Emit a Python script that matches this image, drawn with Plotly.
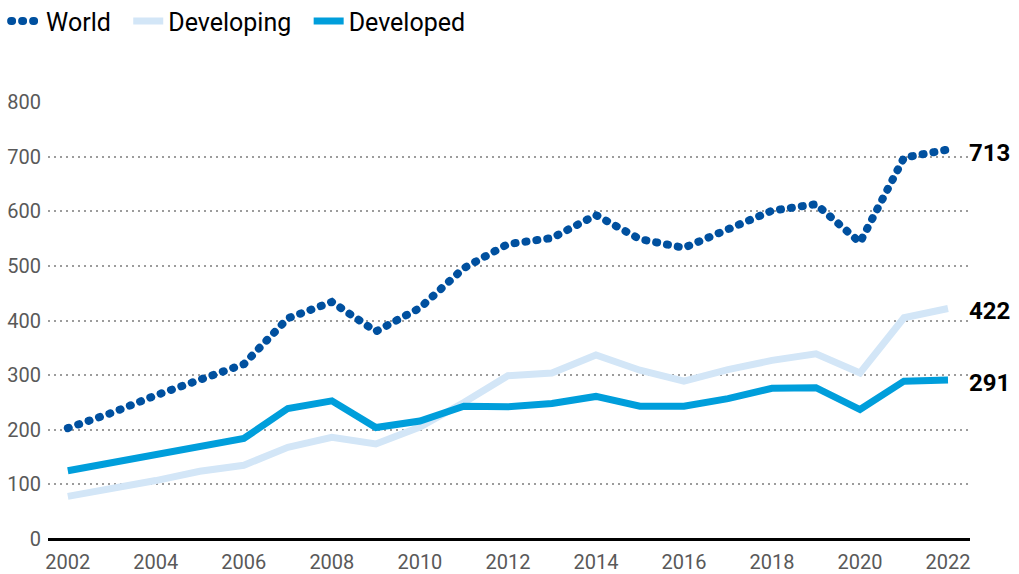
import plotly.graph_objects as go

years = list(range(2002, 2023))
world = [203, 231, 263, 292, 320, 404, 434, 380, 423, 496, 540, 551, 593, 549, 533, 567, 601, 613, 543, 698, 713]
developing = [78, 92, 107, 124, 135, 168, 186, 174, 205, 250, 299, 304, 337, 309, 289, 310, 327, 339, 304, 405, 422]
developed = [125, 139, 156, 169, 184, 239, 253, 204, 216, 243, 242, 248, 261, 243, 243, 257, 276, 277, 237, 289, 291]

series_names = ["World", "Developing", "Developed"]
end_labels = ["713", "422", "291"]

FONT = "Roboto, Arial, sans-serif"
C_WORLD = "#00509f"
C_DEVING = "#d3e6f7"
C_DEVED = "#009edb"
NB = "\u00a0"

fig = go.Figure()
fig.add_trace(go.Scatter(x=years, y=world, name=series_names[0] + NB * 2, mode="lines",
                         line=dict(color=C_WORLD, width=8, dash="1px,10px")))
fig.add_trace(go.Scatter(x=years, y=developing, name=series_names[1] + NB * 2, mode="lines",
                         line=dict(color=C_DEVING, width=7)))
fig.add_trace(go.Scatter(x=years, y=developed, name=series_names[2], mode="lines",
                         line=dict(color=C_DEVED, width=7)))

for series, lab in zip([world, developing, developed], end_labels):
    fig.add_annotation(x=years[-1], y=series[-1], text=f"<b>{lab}</b>", showarrow=False,
                       xanchor="left", xshift=19, yshift=-3,
                       font=dict(family=FONT, size=24, color="#000"))

fig.update_layout(
    width=1019, height=574,
    margin=dict(l=48, r=49, t=102, b=35, autoexpand=False),
    paper_bgcolor="white", plot_bgcolor="white",
    font=dict(family=FONT, size=20, color="#595959"),
    showlegend=True,
    legend=dict(orientation="h", x=0.006, y=0.963, xanchor="left", yanchor="middle",
                xref="container", yref="container",
                font=dict(family=FONT, size=25, color="#000"),
                itemwidth=30, bgcolor="rgba(0,0,0,0)"),
    xaxis=dict(range=[2001.55, 2022.5], tickmode="array", tickvals=list(range(2002, 2023, 2)),
               showgrid=False, zeroline=False, showline=False, ticks="", ticklen=0,
               ticklabelstandoff=9,
               tickfont=dict(family=FONT, size=20, color="#595959")),
    yaxis=dict(range=[0, 800], tickvals=[0, 100, 200, 300, 400, 500, 600, 700, 800],
               showgrid=True, gridcolor="#9c9c9c", gridwidth=2, griddash="2px,4px",
               zeroline=True, zerolinecolor="#000", zerolinewidth=3,
               ticks="", ticklabelstandoff=6,
               tickfont=dict(family=FONT, size=20, color="#595959")),
)

post = """
document.body.style.margin='0';
var s=document.createElement('style');
s.innerHTML='body{margin:0;} .scatterlayer .trace:first-child path.js-line, .legend .traces:first-child path.js-line{stroke-linecap:round;}';
document.head.appendChild(s);
"""
fig.write_html("out.html", post_script=post, config={"displayModeBar": False})
